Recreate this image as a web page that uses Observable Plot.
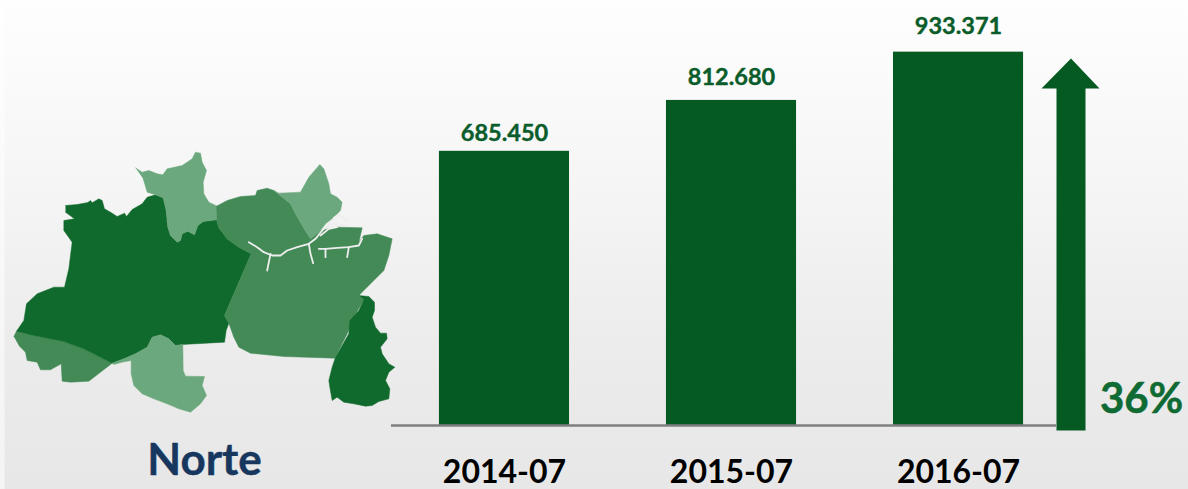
<!DOCTYPE html>
<html><head><meta charset="utf-8">
<script src="https://cdn.jsdelivr.net/npm/d3@7"></script>
<script src="https://cdn.jsdelivr.net/npm/@observablehq/plot@0.6"></script>
<style>
html,body{margin:0;padding:0;width:1188px;height:489px;overflow:hidden}
body{position:relative;background:linear-gradient(90deg,rgba(255,255,255,.55) 4px,rgba(255,255,255,0) 5px),linear-gradient(#fefefe 0%,#f6f6f6 35%,#ececec 70%,#e7e7e7 100%)}
#chart,#overlay{position:absolute;left:0;top:0}
svg{display:block;background:transparent}
</style></head><body>
<div id="chart"></div><div id="overlay"></div>
<script>
const FONT = "Lato, 'Open Sans', sans-serif";
const periods = ["2014-07", "2015-07", "2016-07"];
const totals = [685450, 812680, 933371];
const regionName = "Norte";
const growthLabel = "36%";

// Arrow outline (page units)
const arrowOutline = [[1056,430],[1056,88],[1041,88],[1070.5,58],[1099,88],[1085,88],[1085,430]];

// Map outlines, traced in 3x units of the map's own box
const amazonas = [[195,195],[230,192],[262,186],[270,180],[275,187],[295,175],[305,180],[312,205],[335,218],[350,228],[372,218],[378,228],[395,207],[425,190],[440,170],[465,163],[488,172],[497,210],[502,260],[510,285],[530,305],[540,300],[545,280],[562,272],[582,283],[592,255],[608,243],[648,238],[655,262],[680,295],[715,320],[752,340],[672,525],[685,548],[677,570],[672,605],[545,612],[525,615],[505,595],[480,583],[455,590],[440,620],[405,640],[370,655],[335,668],[250,625],[190,603],[100,585],[48,572],[70,540],[78,490],[110,460],[160,440],[192,440],[205,385],[215,305],[190,270],[190,240],[222,235],[195,215]];
const acre = [[40,588],[48,572],[100,585],[190,603],[250,625],[335,668],[300,695],[265,722],[210,725],[185,722],[182,670],[150,688],[120,688],[110,665],[80,660],[75,635],[55,615]];
const rondonia = [[335,668],[370,655],[405,640],[440,620],[455,590],[480,583],[505,595],[525,615],[547,612],[548,690],[555,707],[612,708],[605,735],[618,765],[600,790],[570,815],[535,805],[500,790],[460,775],[425,760],[400,735],[392,700],[392,660],[365,665],[340,672]];
const roraima = [[405,82],[425,95],[445,90],[470,100],[487,103],[500,85],[545,75],[575,55],[585,35],[600,38],[605,65],[618,90],[608,125],[610,160],[625,185],[650,197],[648,238],[608,243],[592,255],[582,283],[562,272],[545,280],[540,300],[530,305],[510,285],[502,260],[497,210],[488,172],[465,163],[440,155],[428,115]];
const para = [[648,197],[680,180],[720,168],[765,165],[770,150],[800,143],[820,150],[870,190],[885,220],[905,255],[930,295],[960,270],[1010,260],[1085,262],[1075,305],[1090,285],[1130,280],[1175,295],[1165,345],[1150,390],[1110,430],[1075,465],[1090,478],[1060,530],[1045,570],[1003,653],[850,648],[750,638],[715,620],[700,590],[685,548],[672,525],[752,340],[715,320],[680,295],[655,262],[648,238]];
const amapa = [[820,150],[835,158],[900,155],[925,110],[958,72],[970,85],[985,130],[990,160],[1010,170],[1025,185],[1020,210],[1000,230],[975,250],[960,270],[930,295],[905,255],[885,220],[870,190]];
const tocantins = [[1075,465],[1105,468],[1122,485],[1122,510],[1115,530],[1125,560],[1140,578],[1158,578],[1160,595],[1140,620],[1145,640],[1165,670],[1183,680],[1165,695],[1155,720],[1168,745],[1165,775],[1135,783],[1115,795],[1095,797],[1060,790],[1030,785],[1010,770],[995,780],[988,740],[985,720],[995,680],[1005,650],[1025,615],[1045,580],[1048,540],[1075,510],[1090,478]];
const rivers = [
  [[745,305],[770,320],[790,335],[815,345],[840,345],[860,330],[890,320],[925,310],[945,295],[965,270],[985,250],[1005,235]],
  [[925,310],[930,340],[938,368]],
  [[810,340],[800,390]],
  [[955,325],[975,325],[1010,322],[1045,320],[1075,315],[1085,295]],
  [[975,325],[975,350]],
  [[1045,320],[1040,350]],
  [[1000,232],[1015,222],[1040,240]],
  [[975,262],[1000,250],[1040,255]],
  [[960,285],[985,265],[1010,260]]
];

const ptFormat = d3.formatLocale({decimal:",",thousands:".",grouping:[3],currency:["",""]}).format(",");
const table = periods.map((p,i)=>({period:p,total:totals[i]}));

const chart = Plot.plot({
  width:1188, height:489,
  marginLeft:391, marginRight:132, marginTop:0, marginBottom:64,
  style:{background:"transparent",fontFamily:FONT},
  x:{domain:periods,range:[342,1120],padding:0.427,align:0.5,round:false,label:null},
  y:{domain:[0,1062500],range:[425,0],axis:null,label:null},
  marks:[
    Plot.barY(table,{x:"period",y:"total",fill:"#055a22"}),
    Plot.ruleY([0],{stroke:"#7f7f7f",strokeWidth:2.5}),
    // the reference's value labels sit at slightly different gaps above their bars
    ...table.map((d,i)=>Plot.text([d],{x:"period",y:"total",text:v=>ptFormat(v.total),dy:[-18,-23,-26][i],fill:"#0a5c2a",stroke:"#0a5c2a",strokeWidth:0.4,fontSize:23.5,fontWeight:700,fontFamily:FONT})),
    Plot.axisX({tickSize:0,tickPadding:35,fontSize:32,fontWeight:700,fill:"#000",stroke:"#000",strokeWidth:0.3,fontFamily:FONT,label:null})
  ]
});
document.getElementById("chart").append(chart);

const toPage = ([x,y])=>({x:x/3,y:y/3+140});
const region = (pts,fill)=>Plot.line(pts.map(toPage),{x:"x",y:"y",fill,stroke:fill,strokeWidth:0.5});
const overlay = Plot.plot({
  width:1188,height:489,margin:0,
  style:{background:"transparent",fontFamily:FONT},
  x:{domain:[0,1188],range:[0,1188],axis:null},
  y:{domain:[0,489],range:[0,489],axis:null},
  marks:[
    region(acre,"#438a57"),
    region(amazonas,"#116a2d"),
    region(rondonia,"#6ca87d"),
    region(roraima,"#6ca87d"),
    region(para,"#438a57"),
    region(amapa,"#6ca87d"),
    region(tocantins,"#116a2d"),
    ...rivers.map(r=>Plot.line(r.map(toPage),{x:"x",y:"y",stroke:"#eeeeee",strokeWidth:1.8})),
    Plot.line(arrowOutline.map(([x,y])=>({x,y})),{x:"x",y:"y",fill:"#055a22",stroke:"none"}),
    Plot.text([growthLabel],{x:()=>1141,y:()=>399,text:d=>d,fill:"#0f6a33",stroke:"#0f6a33",strokeWidth:0.5,fontSize:42,fontWeight:700,fontFamily:FONT}),
    Plot.text([regionName],{x:()=>204,y:()=>460,text:d=>d,fill:"#17375e",stroke:"#17375e",strokeWidth:0.4,fontSize:44,fontWeight:700,fontFamily:FONT})
  ]
});
document.getElementById("overlay").append(overlay);
</script>
</body></html>
